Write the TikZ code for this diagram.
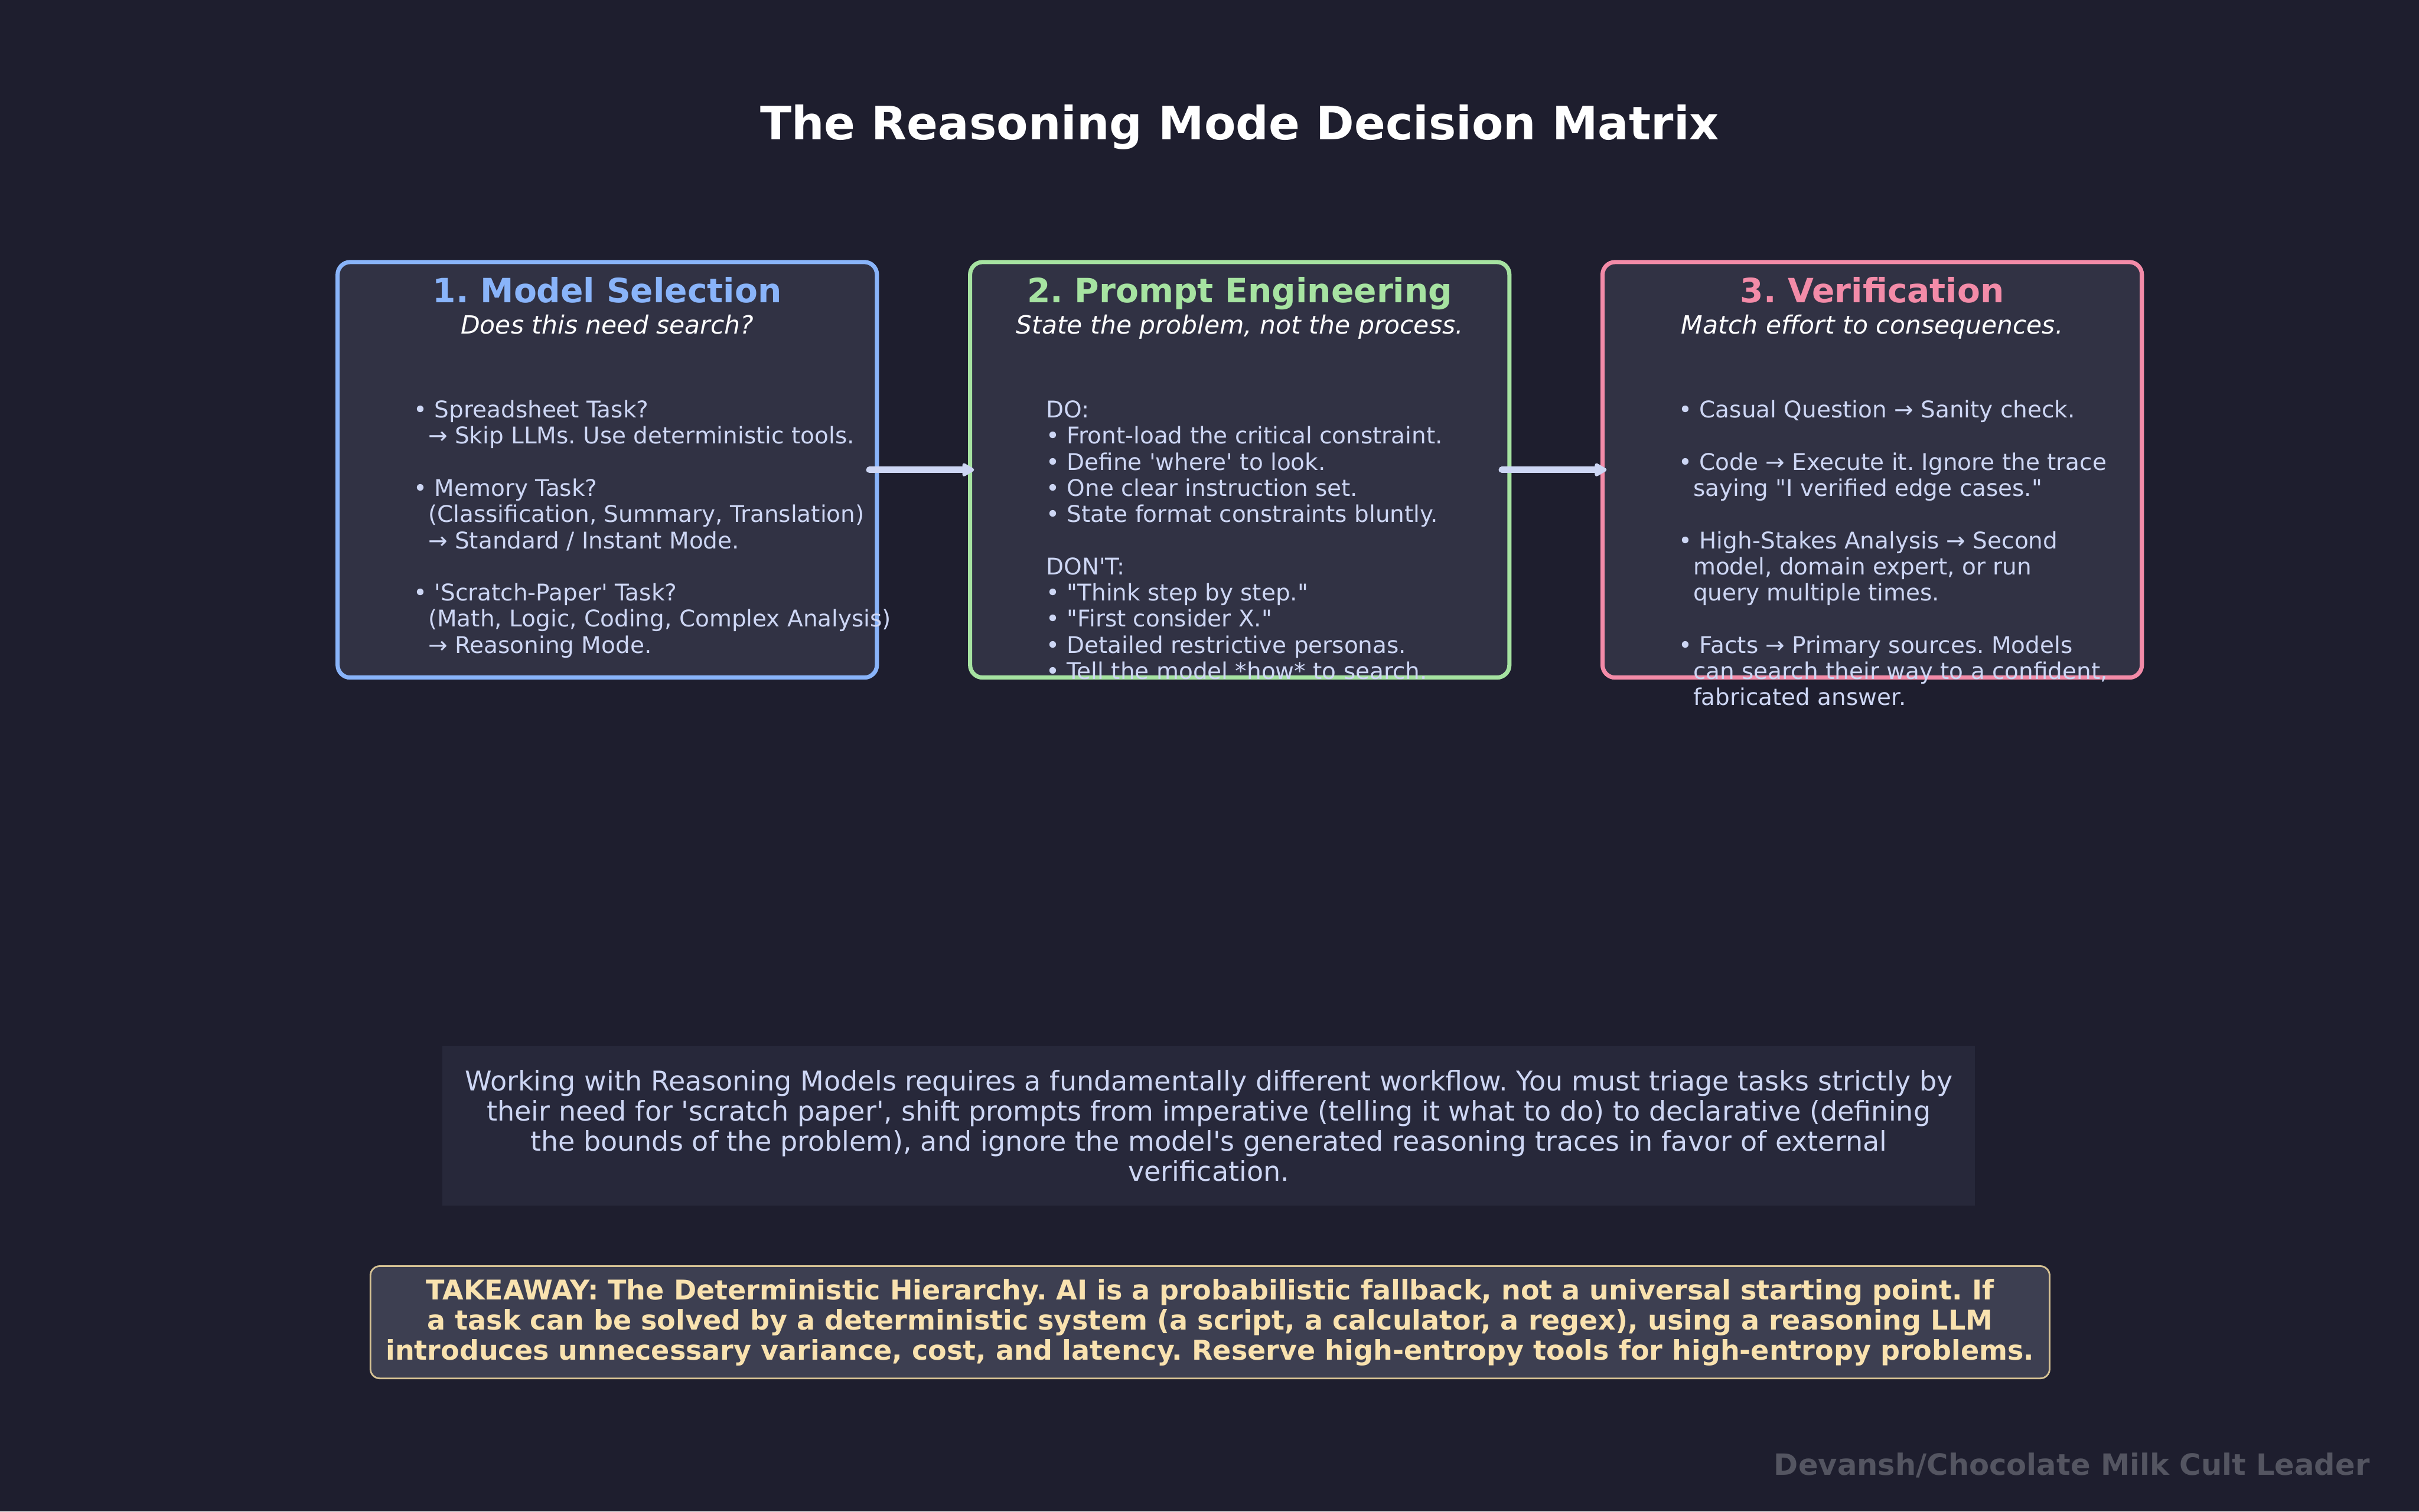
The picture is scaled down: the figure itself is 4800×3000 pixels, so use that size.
\documentclass[tikz,border=0pt]{standalone}
\usepackage{fontspec}
\newfontfamily\dejavu{DejaVu Sans}
\usetikzlibrary{arrows.meta,calc}

\definecolor{bgbase}{HTML}{1E1E2E}
\definecolor{panelfill}{HTML}{313244}
\definecolor{sumfill}{HTML}{27283A}
\definecolor{takefill}{HTML}{3D3F51}
\definecolor{takeedge}{RGB}{214,194,148}
\definecolor{bodytxt}{HTML}{CDD6F4}
\definecolor{selblue}{HTML}{89B4FA}
\definecolor{engreen}{HTML}{A6E3A1}
\definecolor{verpink}{HTML}{F38BA8}
\definecolor{takeyellow}{HTML}{F9E2AF}
\definecolor{markgray}{RGB}{84,85,97}

\newcommand{\ind}{\hspace*{0.636em}}

\begin{document}
\dejavu\frenchspacing
\begin{tikzpicture}[
    x=0.2409pt, y=-0.2409pt,
    panel/.style={draw=#1, fill=panelfill, line width=2pt, rounded corners=6pt,
        minimum width=257.8pt, minimum height=198.7pt, inner sep=0pt, outer sep=0pt},
    titletext/.style={font=\fontsize{22}{26}\selectfont\bfseries, text=white,
        anchor=base, inner sep=0pt},
    headtext/.style={font=\fontsize{16}{19}\selectfont\bfseries, text=#1,
        anchor=base, inner sep=0pt},
    subtext/.style={font=\fontsize{12}{14}\selectfont\itshape, text=white,
        anchor=base, inner sep=0pt},
    bodytext/.style={font=\fontsize{11}{12.5}\selectfont, text=bodytxt,
        align=left, anchor=north west, inner sep=0pt},
    flowarrow/.style={draw=bodytxt, fill=bodytxt, line width=3.1pt, line cap=round,
        -{Triangle[length=6.5pt,width=7pt,round]}},
    sumbox/.style={fill=sumfill, text=bodytxt, align=center, inner sep=0pt,
        font=\fontsize{13}{14.4}\selectfont,
        minimum width=732.6pt, minimum height=76.1pt},
    takebox/.style={draw=takeedge, fill=takefill, line width=0.8pt, rounded corners=4.5pt,
        text=takeyellow, align=center, inner sep=0pt,
        font=\fontsize{13}{14.4}\selectfont\bfseries,
        minimum width=802.7pt, minimum height=53.7pt},
    marktext/.style={font=\fontsize{14}{17}\selectfont\bfseries, text=markgray,
        anchor=base east, inner sep=0pt},
]

% ── Canvas ──────────────────────────────────────────────────
\fill[bgbase] (0,0) rectangle (4800,3000);
\useasboundingbox (0,0) rectangle (4800,3000);

\node[titletext] (title) at (2460,277) {The Reasoning Mode Decision Matrix};

% ── Three panels ────────────────────────────────────────────
\foreach \nm/\cx/\col/\head/\sub in {
    msel/1205/selblue/{1. Model Selection}/{Does this need search?},
    peng/2460/engreen/{2. Prompt Engineering}/{State the problem, not the process.},
    verif/3715/verpink/{3. Verification}/{Match effort to consequences.}} {
    \node[panel=\col] (\nm) at (\cx,932.5) {};
    \node[headtext=\col] (\nm-head) at ($(\nm.north)+(0,80)$) {\head};
    \node[subtext] (\nm-sub) at ($(\nm.north)+(0,143)$) {\sub};
}

% ── Flow arrows ─────────────────────────────────────────────
\draw[flowarrow] ([xshift=-3.6pt]msel.east) -- ([xshift=1.9pt]peng.west);
\draw[flowarrow] ([xshift=-3.6pt]peng.east) -- ([xshift=1.9pt]verif.west);

% ── Panel bodies (strut fixes the top of the first line) ───
\node[bodytext] (msel-body) at ($(msel.north west)+(150,272)$) {%
\strut• Spreadsheet Task?\\
\ind→ Skip LLMs. Use deterministic tools.\\[12.5pt]
• Memory Task?\\
\ind(Classification, Summary, Translation)\\
\ind→ Standard / Instant Mode.\\[12.5pt]
• 'Scratch-Paper' Task?\\
\ind(Math, Logic, Coding, Complex Analysis)\\
\ind→ Reasoning Mode.};

\node[bodytext] (peng-body) at ($(peng.north west)+(150,272)$) {%
\strut DO:\\
• Front-load the critical constraint.\\
• Define 'where' to look.\\
• One clear instruction set.\\
• State format constraints bluntly.\\[12.5pt]
DON'T:\\
• "Think step by step."\\
• "First consider X."\\
• Detailed restrictive personas.\\
• Tell the model *how* to search.};

\node[bodytext] (verif-body) at ($(verif.north west)+(150,272)$) {%
\strut• Casual Question → Sanity check.\\[12.5pt]
• Code → Execute it. Ignore the trace\\
\ind saying "I verified edge cases."\\[12.5pt]
• High-Stakes Analysis → Second\\
\ind model, domain expert, or run\\
\ind query multiple times.\\[12.5pt]
• Facts → Primary sources. Models\\
\ind can search their way to a confident,\\
\ind fabricated answer.};

% ── Summary and takeaway ────────────────────────────────────
\node[sumbox] (summary) at (2398.5,2235) {%
Working with Reasoning Models requires a fundamentally different workflow. You must triage tasks strictly by\\
their need for 'scratch paper', shift prompts from imperative (telling it what to do) to declarative (defining\\
the bounds of the problem), and ignore the model's generated reasoning traces in favor of external\\
verification.};

\node[takebox] (takeaway) at (2401,2624.5) {%
TAKEAWAY: The Deterministic Hierarchy. AI is a probabilistic fallback, not a universal starting point. If\\
a task can be solved by a deterministic system (a script, a calculator, a regex), using a reasoning LLM\\
introduces unnecessary variance, cost, and latency. Reserve high-entropy tools for high-entropy problems.};

\node[marktext] (credit) at (4703,2928) {Devansh/Chocolate Milk Cult Leader};

\end{tikzpicture}
\end{document}
